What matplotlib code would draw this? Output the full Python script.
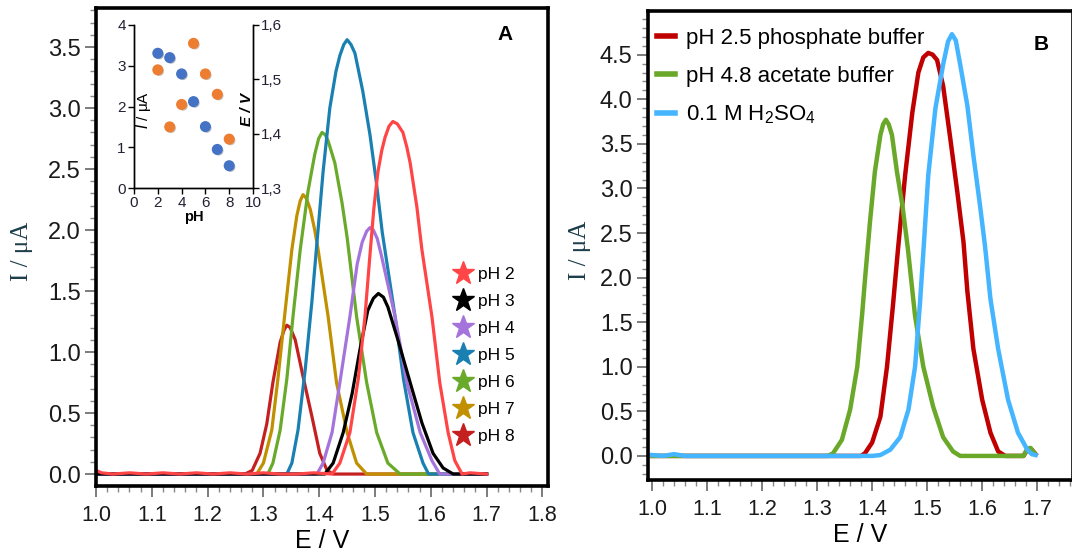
import matplotlib.pyplot as plt
import matplotlib.patheffects as pe
from matplotlib.lines import Line2D
from matplotlib.ticker import MultipleLocator

plt.rcParams['font.family'] = ['Liberation Sans', 'DejaVu Sans']

# ---- panel A: DPV curves at different pH ----
ph2_E = [1.00, 1.01, 1.03, 1.06, 1.09, 1.12, 1.15, 1.18, 1.21, 1.24, 1.27, 1.30, 1.33, 1.36, 1.39,
         1.423, 1.437, 1.455, 1.470, 1.482, 1.491, 1.498, 1.505, 1.512, 1.518, 1.525, 1.532, 1.540,
         1.550, 1.557, 1.563, 1.575, 1.584, 1.602, 1.616, 1.631, 1.643, 1.656, 1.67, 1.70]
ph2_I = [0.03, 0.01, 0.00, 0.01, 0.00, 0.01, 0.00, 0.01, 0.00, 0.01, 0.00, 0.01, 0.00, 0.00, 0.01,
         0.00, 0.09, 0.34, 0.78, 1.29, 1.80, 2.18, 2.47, 2.65, 2.76, 2.85, 2.89, 2.87,
         2.80, 2.68, 2.55, 2.19, 1.84, 1.29, 0.75, 0.34, 0.11, 0.00, 0.01, 0.00]

ph3_E = [1.00, 1.410, 1.425, 1.443, 1.459, 1.473, 1.487, 1.497, 1.506, 1.515, 1.523, 1.541, 1.563,
         1.584, 1.604, 1.622, 1.640, 1.70]
ph3_I = [0.00, 0.00, 0.09, 0.34, 0.66, 1.02, 1.34, 1.44, 1.48, 1.45, 1.37, 1.10, 0.75,
         0.42, 0.17, 0.05, 0.00, 0.00]

ph4_E = [1.00, 1.396, 1.407, 1.423, 1.437, 1.455, 1.468, 1.477, 1.485, 1.491, 1.497, 1.504, 1.511,
         1.536, 1.557, 1.581, 1.602, 1.616, 1.70]
ph4_I = [0.00, 0.00, 0.09, 0.34, 0.75, 1.29, 1.72, 1.90, 1.99, 2.02, 2.00, 1.93, 1.80,
         1.29, 0.75, 0.34, 0.11, 0.00, 0.00]

ph5_E = [1.00, 1.342, 1.351, 1.362, 1.375, 1.387, 1.396, 1.407, 1.419, 1.430, 1.437, 1.444, 1.450,
         1.457, 1.464, 1.478, 1.491, 1.503, 1.513, 1.536, 1.551, 1.568, 1.586, 1.596, 1.70]
ph5_I = [0.00, 0.00, 0.09, 0.36, 0.86, 1.42, 1.90, 2.48, 3.00, 3.30, 3.43, 3.52, 3.56,
         3.52, 3.45, 3.14, 2.78, 2.37, 1.98, 1.29, 0.78, 0.34, 0.09, 0.00, 0.00]

ph6_E = [1.00, 1.308, 1.317, 1.330, 1.342, 1.353, 1.366, 1.380, 1.392, 1.399, 1.405, 1.411, 1.416,
         1.428, 1.441, 1.450, 1.467, 1.485, 1.503, 1.523, 1.545, 1.70]
ph6_I = [0.00, 0.00, 0.09, 0.36, 0.78, 1.29, 1.84, 2.32, 2.62, 2.75, 2.80, 2.78, 2.73,
         2.55, 2.22, 1.94, 1.29, 0.75, 0.34, 0.09, 0.00, 0.00]

ph7_E = [1.00, 1.288, 1.300, 1.315, 1.326, 1.339, 1.351, 1.360, 1.366, 1.371, 1.377, 1.384, 1.392,
         1.398, 1.416, 1.431, 1.450, 1.467, 1.485, 1.70]
ph7_I = [0.00, 0.00, 0.09, 0.36, 0.78, 1.34, 1.84, 2.12, 2.24, 2.29, 2.26, 2.17, 2.00,
         1.84, 1.29, 0.75, 0.34, 0.09, 0.00, 0.00]

ph8_E = [1.00, 1.267, 1.280, 1.294, 1.306, 1.317, 1.330, 1.337, 1.342, 1.348, 1.357, 1.371, 1.387,
         1.401, 1.414, 1.425, 1.70]
ph8_I = [0.00, 0.00, 0.03, 0.17, 0.41, 0.75, 1.08, 1.18, 1.22, 1.20, 1.10, 0.80, 0.47,
         0.17, 0.03, 0.00, 0.00]

ph_labels = ['pH 2', 'pH 3', 'pH 4', 'pH 5', 'pH 6', 'pH 7', 'pH 8']
ph_colors = ['#ff4545', '#000000', '#a474dc', '#1a80b2', '#6aaa2a', '#c09000', '#c42020']

# inset: peak current and peak potential vs pH
inset_pH = [2, 3, 4, 5, 6, 7, 8]
inset_I = [2.90, 1.50, 2.05, 3.55, 2.80, 2.30, 1.20]
inset_E = [1.548, 1.540, 1.510, 1.459, 1.413, 1.371, 1.341]

# ---- panel B: supporting electrolytes ----
phos_E = [1.00, 1.380, 1.387, 1.400, 1.415, 1.427, 1.438, 1.447, 1.460, 1.473, 1.484, 1.493, 1.502,
          1.510, 1.518, 1.529, 1.542, 1.555, 1.566, 1.573, 1.584, 1.600, 1.615, 1.629, 1.642,
          1.675, 1.683, 1.690, 1.697]
phos_I = [0.00, 0.00, 0.03, 0.15, 0.44, 1.00, 1.70, 2.32, 3.15, 3.85, 4.30, 4.47, 4.52,
          4.50, 4.44, 4.15, 3.56, 2.95, 2.40, 1.85, 1.20, 0.63, 0.26, 0.05, 0.00,
          0.00, 0.08, 0.07, 0.02]

acet_E = [1.00, 1.320, 1.329, 1.345, 1.360, 1.373, 1.382, 1.387, 1.396, 1.405, 1.415, 1.420, 1.425,
          1.430, 1.436, 1.445, 1.455, 1.465, 1.478, 1.493, 1.511, 1.529, 1.547, 1.560,
          1.675, 1.682, 1.688, 1.695]
acet_I = [0.00, 0.00, 0.03, 0.18, 0.52, 1.00, 1.60, 1.98, 2.62, 3.19, 3.60, 3.72, 3.77,
          3.72, 3.60, 3.19, 2.81, 2.32, 1.57, 1.00, 0.55, 0.21, 0.05, 0.00,
          0.00, 0.08, 0.09, 0.03]

h2so4_E = [1.00, 1.02, 1.04, 1.06, 1.40, 1.415, 1.433, 1.451, 1.466, 1.478, 1.487, 1.493, 1.502,
           1.515, 1.529, 1.538, 1.545, 1.552, 1.560, 1.573, 1.584, 1.596, 1.605, 1.615, 1.629,
           1.647, 1.665, 1.682, 1.690, 1.697]
h2so4_I = [0.01, 0.00, 0.02, 0.00, 0.00, 0.01, 0.07, 0.21, 0.52, 1.00, 1.72, 2.28, 3.15,
           3.90, 4.39, 4.65, 4.73, 4.66, 4.39, 3.93, 3.37, 2.81, 2.36, 1.76, 1.20,
           0.63, 0.26, 0.07, 0.02, 0.01]

b_labels = ['pH 2.5 phosphate buffer', 'pH 4.8 acetate buffer',
            r'0.1 M H$_\mathregular{2}$SO$_\mathregular{4}$']
b_colors = ['#c00000', '#6aa82a', '#45b5ff']

W, H = 1072, 552
fig = plt.figure(figsize=(W / 100, H / 100), dpi=100)


def style_main(ax):
    for s in ax.spines.values():
        s.set_linewidth(2.6)
    ax.xaxis.set_major_locator(MultipleLocator(0.1))
    ax.xaxis.set_minor_locator(MultipleLocator(0.02))
    ax.yaxis.set_major_locator(MultipleLocator(0.5))
    ax.yaxis.set_minor_locator(MultipleLocator(0.1))
    ax.tick_params(which='major', direction='out', length=8, width=1.2, color='#666666',
                   labelcolor='#1a1a1a', pad=3)
    ax.tick_params(which='minor', direction='out', length=4, width=1.0, color='#888888')
    ax.tick_params(axis='y', labelsize=17)
    ax.tick_params(axis='x', labelsize=15.5, pad=6)
    ax.xaxis.set_major_formatter(plt.FuncFormatter(lambda v, p: f'{v:.1f}'))
    ax.yaxis.set_major_formatter(plt.FuncFormatter(lambda v, p: f'{v:.1f}'))
    ax.set_xlabel('E / V', fontsize=18, labelpad=2)
    ax.set_ylabel('I / μA', fontsize=18, family='Liberation Serif', color='#1d3d4a')


# panel A
axA = fig.add_axes([96 / W, 1 - 486 / H, 452 / W, 478 / H])
curves = [(ph8_E, ph8_I), (ph7_E, ph7_I), (ph6_E, ph6_I), (ph5_E, ph5_I),
          (ph4_E, ph4_I), (ph3_E, ph3_I), (ph2_E, ph2_I)]
for (e, i), c in zip(curves, ph_colors[::-1]):
    axA.plot(e, i, color=c, lw=2.3, solid_joinstyle='round')
axA.set_xlim(1.0, 1.81)
axA.set_ylim(-0.098, 3.82)
style_main(axA)
axA.set_xticks([1.0, 1.1, 1.2, 1.3, 1.4, 1.5, 1.6, 1.7, 1.8])
axA.yaxis.set_label_coords(-0.14, 0.49)

handles = [Line2D([], [], ls='none', marker='*', ms=17, color=c, markeredgecolor=c)
           for c in ph_colors]
axA.legend(handles, ph_labels, loc='upper left', frameon=False, fontsize=12.5,
           bbox_to_anchor=((453 - 96) / 452, (486 - 267) / 478), borderaxespad=0,
           borderpad=0, handlelength=1.1, handletextpad=0.35, labelspacing=0.68)
axA.text((505 - 96) / 452, (486 - 35) / 478, 'A', transform=axA.transAxes,
         fontsize=15, fontweight='bold', ha='center', va='center')

# inset
axI = fig.add_axes([134 / W, 1 - 188 / H, 119 / W, 163 / H])
axI2 = axI.twinx()
shadow = [pe.SimplePatchShadow(offset=(1, -1), alpha=0.3), pe.Normal()]
axI.scatter(inset_pH, inset_I, s=48, color='#ed7d31', zorder=3, path_effects=shadow)
axI2.scatter(inset_pH, inset_E, s=48, color='#4472c4', zorder=3, path_effects=shadow)
axI.set_xlim(0, 10)
axI.set_ylim(0, 4)
axI2.set_ylim(1.3, 1.6)
axI.set_xticks([0, 2, 4, 6, 8, 10])
axI.set_yticks([0, 1, 2, 3, 4])
axI2.set_yticks([1.3, 1.4, 1.5, 1.6])
axI2.set_yticklabels(['1,3', '1,4', '1,5', '1,6'])
for a in (axI, axI2):
    a.spines['top'].set_visible(False)
    for s in a.spines.values():
        s.set_linewidth(1.0)
    a.tick_params(direction='out', length=4, width=1.0, labelsize=11,
                  labelcolor='#222233', pad=2)
axI.set_xlabel('pH', fontsize=10.5, fontweight='bold', labelpad=0)
axI.set_ylabel(r'$I$ / μA', fontsize=11)
axI.yaxis.set_label_coords(0.16, 0.48)
axI2.set_ylabel('E / V', fontsize=11, fontweight='bold', fontstyle='italic')
axI2.yaxis.set_label_coords(0.89, 0.48)

# panel B
axB = fig.add_axes([648 / W, 1 - 480 / H, 425 / W, 469 / H])
for e, i, c in [(phos_E, phos_I, b_colors[0]), (acet_E, acet_I, b_colors[1]),
                (h2so4_E, h2so4_I, b_colors[2])]:
    axB.plot(e, i, color=c, lw=3.2, solid_joinstyle='round')
axB.set_xlim(0.9927, 1.765)
axB.set_ylim(-0.27, 4.99)
style_main(axB)
axB.set_xticks([1.0, 1.1, 1.2, 1.3, 1.4, 1.5, 1.6, 1.7])
axB.yaxis.set_label_coords(-0.135, 0.49)

bh = [Line2D([], [], color=c, lw=4) for c in b_colors]
axB.legend(bh, b_labels, loc='upper left', frameon=False, fontsize=16,
           bbox_to_anchor=((657 - 648) / 425, (480 - 28) / 469), borderaxespad=0,
           borderpad=0, handlelength=0.8, handletextpad=0.5, labelspacing=0.75)
axB.text((1041 - 648) / 425, (480 - 45) / 469, 'B', transform=axB.transAxes,
         fontsize=15, fontweight='bold', ha='center', va='center')

fig.savefig('out.png', dpi=100)
